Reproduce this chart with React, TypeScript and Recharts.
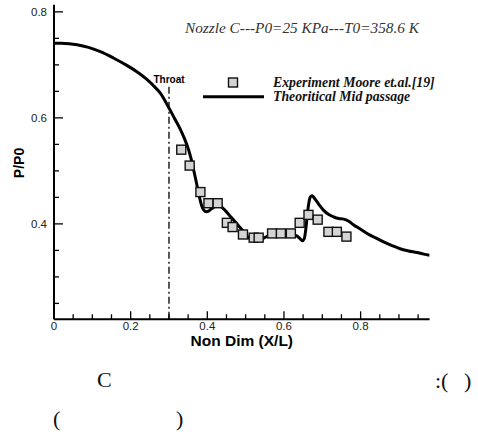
import React from 'react';
import {
  ComposedChart,
  Line,
  Scatter,
  XAxis,
  YAxis,
  ReferenceLine,
  Legend,
} from 'recharts';

// Theoretical mid-passage curve (X/L, P/P0)
const curveX = [0, 0.02, 0.04, 0.06, 0.09, 0.121, 0.155, 0.19, 0.22, 0.243, 0.262, 0.277, 0.29, 0.302, 0.316, 0.33, 0.341, 0.351, 0.358, 0.364, 0.371, 0.377, 0.382, 0.386, 0.391, 0.397, 0.403, 0.41, 0.418, 0.428, 0.437, 0.447, 0.458, 0.469, 0.482, 0.495, 0.508, 0.521, 0.534, 0.547, 0.56, 0.573, 0.59, 0.608, 0.622, 0.634, 0.642, 0.648, 0.653, 0.657, 0.661, 0.665, 0.669, 0.673, 0.679, 0.686, 0.694, 0.703, 0.716, 0.73, 0.743, 0.756, 0.769, 0.782, 0.8, 0.817, 0.838, 0.86, 0.882, 0.903, 0.925, 0.947, 0.965, 0.98];
const curveY = [0.741, 0.741, 0.740, 0.738, 0.733, 0.725, 0.713, 0.699, 0.685, 0.672, 0.659, 0.647, 0.632, 0.616, 0.597, 0.578, 0.560, 0.540, 0.522, 0.503, 0.480, 0.459, 0.443, 0.433, 0.426, 0.423, 0.424, 0.428, 0.432, 0.435, 0.432, 0.425, 0.416, 0.407, 0.396, 0.385, 0.374, 0.368, 0.368, 0.373, 0.378, 0.381, 0.382, 0.381, 0.380, 0.377, 0.372, 0.368, 0.372, 0.390, 0.418, 0.440, 0.451, 0.453, 0.449, 0.442, 0.434, 0.426, 0.418, 0.413, 0.410, 0.409, 0.405, 0.398, 0.390, 0.382, 0.374, 0.366, 0.359, 0.353, 0.349, 0.346, 0.343, 0.341];

// Experiment Moore et.al.[19]
const expX = [0.332, 0.354, 0.382, 0.403, 0.427, 0.451, 0.466, 0.493, 0.521, 0.534, 0.569, 0.592, 0.618, 0.641, 0.664, 0.688, 0.716, 0.738, 0.763];
const expY = [0.540, 0.510, 0.460, 0.439, 0.439, 0.402, 0.394, 0.380, 0.374, 0.374, 0.382, 0.382, 0.382, 0.402, 0.417, 0.408, 0.385, 0.385, 0.376];

const xTicks = [0, 0.05, 0.1, 0.15, 0.2, 0.25, 0.3, 0.35, 0.4, 0.45, 0.5, 0.55, 0.6, 0.65, 0.7, 0.75, 0.8, 0.85, 0.9, 0.95];
const xMajor = [0, 0.2, 0.4, 0.6, 0.8];
const xLabels = ['0', '0.2', '0.4', '0.6', '0.8'];
const yTicks = [0.25, 0.3, 0.35, 0.4, 0.45, 0.5, 0.55, 0.6, 0.65, 0.7, 0.75, 0.8];
const yMajor = [0.4, 0.6, 0.8];
const yLabels = ['0.4', '0.6', '0.8'];

const throatX = 0.3;
const throatTop = 0.6585;

const curveData = curveX.map((x, i) => ({ x, y: curveY[i] }));
const expData = expX.map((x, i) => ({ x, y: expY[i] }));

const sans = 'Liberation Sans, Arial, sans-serif';
const serif = 'Liberation Serif, Times New Roman, serif';

const XTick = (props: any) => {
  const { x, y, payload } = props;
  const idx = xMajor.indexOf(payload.value);
  const major = idx >= 0;
  return (
    <g>
      <line x1={x} y1={y} x2={x} y2={y - (major ? 8 : 5)} stroke="#000" strokeWidth={1.3} />
      {major && (
        <text x={x} y={y + 11} textAnchor="middle" fontFamily={sans} fontSize={11.5} fill="#222">
          {xLabels[idx]}
        </text>
      )}
    </g>
  );
};

const YTick = (props: any) => {
  const { x, y, payload } = props;
  const idx = yMajor.indexOf(payload.value);
  const major = idx >= 0;
  return (
    <g>
      <line x1={x} y1={y} x2={x + (major ? 9 : 5)} y2={y} stroke="#000" strokeWidth={1.3} />
      {major && (
        <text x={x - 7} y={y + 4} textAnchor="end" fontFamily={sans} fontSize={11.5} fill="#222">
          {yLabels[idx]}
        </text>
      )}
    </g>
  );
};

const SquareShape = (props: any) => {
  const { cx, cy } = props;
  return <rect x={cx - 4.5} y={cy - 4.5} width={9} height={9} fill="#d4d4d4" stroke="#111" strokeWidth={1.4} />;
};

const LegendContent = (props: any) => {
  const payload = [...(props.payload || [])].sort((a: any, b: any) => (a.type === 'square' ? -1 : 1) - (b.type === 'square' ? -1 : 1));
  return (
    <svg width={270} height={32} style={{ display: 'block' }}>
      {payload.map((p: any, i: number) => {
        const cy = i === 0 ? 8.5 : 22.7;
        return (
          <g key={i}>
            {p.type === 'square' ? (
              <rect x={28.5} y={cy - 4.5} width={9} height={9} fill="#d4d4d4" stroke="#111" strokeWidth={1.4} />
            ) : (
              <line x1={3} y1={cy} x2={64} y2={cy} stroke="#000" strokeWidth={3} />
            )}
            <text x={73} y={cy + 4} fontFamily={serif} fontStyle="italic" fontWeight="bold" fontSize={13.8} fill="#111">
              {p.value}
            </text>
          </g>
        );
      })}
    </svg>
  );
};

const YLabel = () => (
  <text x={19} y={163} transform="rotate(-90 19 163)" textAnchor="middle" dominantBaseline="central" fontFamily={sans} fontWeight="bold" fontSize={14} fill="#000">
    P/P0
  </text>
);

export default function App() {
  return (
    <div style={{ position: 'absolute', left: 0, top: 0, width: 478, height: 434, background: '#fff' }}>
      <ComposedChart
        width={478}
        height={434}
        margin={{ top: 4.7, right: 48.4, bottom: 84.7, left: 0 }}
      >
        <XAxis
          dataKey="x"
          type="number"
          domain={[0, 0.98]}
          allowDataOverflow
          ticks={xTicks}
          interval={0}
          tick={<XTick />}
          tickLine={false}
          tickSize={0}
          tickMargin={0}
          height={30}
          axisLine={{ stroke: '#000', strokeWidth: 2 }}
          label={{ value: 'Non Dim (X/L)', position: 'insideBottom', offset: 3, style: { fontFamily: sans, fontWeight: 'bold', fontSize: 15.5, fill: '#000' } }}
        />
        <YAxis
          type="number"
          domain={[0.22, 0.8135]}
          allowDataOverflow
          ticks={yTicks}
          interval={0}
          tick={<YTick />}
          tickLine={false}
          tickSize={0}
          tickMargin={0}
          width={54}
          axisLine={{ stroke: '#000', strokeWidth: 2 }}
          label={{ content: <YLabel /> }}
        />
        <ReferenceLine
          segment={[{ x: throatX, y: throatTop }, { x: throatX, y: 0.22 }]}
          stroke="#000"
          strokeWidth={1.3}
          strokeDasharray="7 3 2 3"
          label={{ value: 'Throat', position: 'top', offset: 4, style: { fontFamily: sans, fontWeight: 'bold', fontSize: 10, fill: '#000' } }}
        />
        <Legend
          layout="vertical"
          align="center"
          verticalAlign="middle"
          content={<LegendContent />}
          wrapperStyle={{ left: 200, top: 74, width: 270, height: 32 }}
        />
        <Line
          data={curveData}
          dataKey="y"
          name="Theoritical Mid passage"
          type="monotone"
          stroke="#000"
          strokeWidth={3}
          dot={false}
          legendType="line"
          isAnimationActive={false}
        />
        <Scatter
          data={expData}
          dataKey="y"
          name="Experiment Moore et.al.[19]"
          shape={<SquareShape />}
          legendType="square"
          isAnimationActive={false}
        />
      </ComposedChart>
      <svg width={478} height={434} style={{ position: 'absolute', left: 0, top: 0, pointerEvents: 'none' }}>
        <text x={185} y={33} fontFamily={serif} fontStyle="italic" fontSize={15.3} fill="#333">
          Nozzle C---P0=25 KPa---T0=358.6 K
        </text>
        <text x={97} y={387} fontFamily={serif} fontSize={22} fill="#111">C</text>
        <text x={435} y={388} fontFamily={serif} fontSize={22} fill="#111">:(</text>
        <text x={464} y={388} fontFamily={serif} fontSize={22} fill="#111">)</text>
        <text x={53} y={426} fontFamily={serif} fontSize={22} fill="#111">(</text>
        <text x={176} y={426} fontFamily={serif} fontSize={22} fill="#111">)</text>
      </svg>
    </div>
  );
}
